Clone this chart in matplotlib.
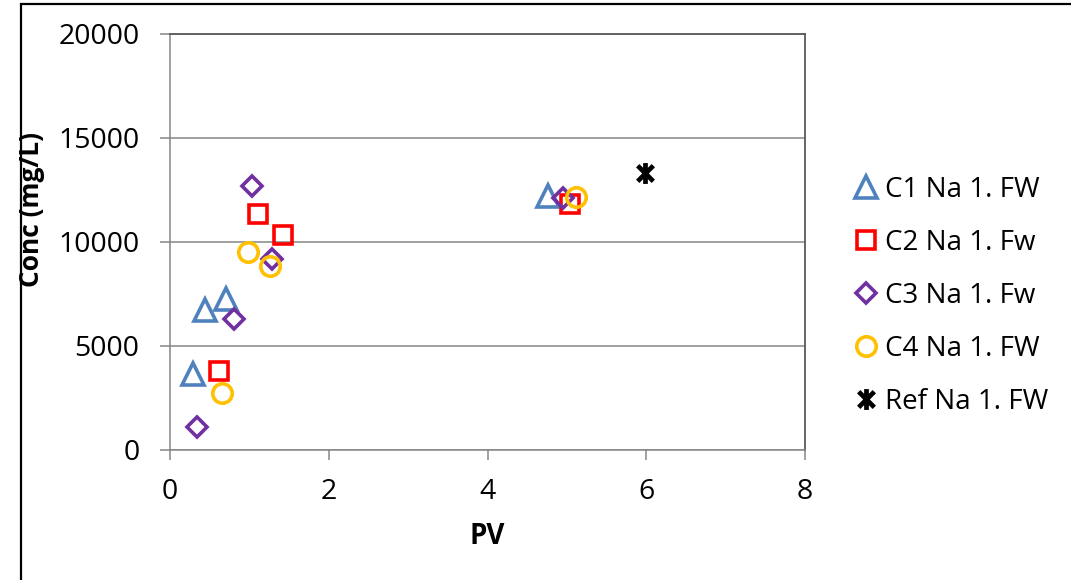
import matplotlib
matplotlib.use("Agg")
import matplotlib.pyplot as plt
from matplotlib.path import Path
from matplotlib.patches import Rectangle

# Concentration (mg/L) against pore volumes (PV) for each core
pv_c1 = [0.29, 0.44, 0.71, 4.76]
conc_c1 = [3650, 6730, 7270, 12200]

pv_c2 = [0.62, 1.11, 1.42, 5.04]
conc_c2 = [3800, 11330, 10340, 11850]

pv_c3 = [0.34, 0.81, 1.03, 1.29, 4.95]
conc_c3 = [1120, 6300, 12700, 9170, 12100]

pv_c4 = [0.65, 0.98, 1.26, 5.11]
conc_c4 = [2750, 9530, 8850, 12150]

pv_ref = [5.98]
conc_ref = [13300]

labels = ["C1 Na 1. FW", "C2 Na 1. Fw", "C3 Na 1. Fw", "C4 Na 1. FW", "Ref Na 1. FW"]
x_ticks = [0, 2, 4, 6, 8]
y_ticks = [0, 5000, 10000, 15000, 20000]

plt.rcParams["font.family"] = ["Open Sans", "DejaVu Sans"]

W, H = 1071, 580
fig = plt.figure(figsize=(W / 100, H / 100), dpi=100)
ax = fig.add_axes([170 / W, (H - 450) / H, (805 - 170) / W, (450 - 34) / H])

# asterisk-like marker: vertical bar plus a cross
star = Path(
    [(0, -1), (0, 1), (-0.75, -0.75), (0.75, 0.75), (-0.75, 0.75), (0.75, -0.75)],
    [Path.MOVETO, Path.LINETO, Path.MOVETO, Path.LINETO, Path.MOVETO, Path.LINETO],
)

common = dict(linestyle="none", markerfacecolor="none", markeredgewidth=2.6)
ax.plot(pv_c1, conc_c1, marker="^", markersize=15.5, markeredgecolor="#4F81BD", label=labels[0], **common)
ax.plot(pv_c2, conc_c2, marker="s", markersize=13.5, markeredgecolor="#FF0000", label=labels[1], **common)
ax.plot(pv_c3, conc_c3, marker="D", markersize=10.5, markeredgecolor="#7030A0", label=labels[2], **common)
ax.plot(pv_c4, conc_c4, marker="o", markersize=14, markeredgecolor="#FFC000", label=labels[3], **common)
ax.plot(pv_ref, conc_ref, marker=star, markersize=15, markeredgecolor="black", label=labels[4],
        linestyle="none", markeredgewidth=3.4)

ax.set_xlim(0, 8)
ax.set_ylim(0, 20000)
ax.set_xticks(x_ticks)
ax.set_yticks(y_ticks)
ax.yaxis.grid(True, color="#868686", linewidth=1.1)
ax.set_axisbelow(True)

for side in ("left", "bottom"):
    ax.spines[side].set_color("#868686")
    ax.spines[side].set_linewidth(1.1)
for side in ("top", "right"):
    ax.spines[side].set_color("#595959")
    ax.spines[side].set_linewidth(1.3)

ax.tick_params(axis="both", direction="out", length=7, width=1.1, color="#868686",
               labelsize=20.5, labelcolor="black")
ax.tick_params(axis="y", pad=15)
ax.tick_params(axis="x", pad=13)

fig.text(32 / W, 1 - 210 / H, "Conc (mg/L)", rotation=90, ha="center", va="center",
         fontsize=19, fontweight="bold")
fig.text(487 / W, 1 - 536 / H, "PV", ha="center", va="center", fontsize=20, fontweight="bold")

fig.legend(loc="upper left", bbox_to_anchor=(852 / W, 1 - 176 / H), frameon=False,
           fontsize=20, handlelength=1.0, handletextpad=0.2, labelspacing=0.9,
           borderpad=0, borderaxespad=0)

# outer frame of the figure
fig.add_artist(Rectangle((21 / W, -0.05), 1.2, 1.05 - 4 / H, transform=fig.transFigure,
                         fill=False, edgecolor="black", linewidth=1.6, clip_on=False))

fig.savefig("out.png", dpi=100)
